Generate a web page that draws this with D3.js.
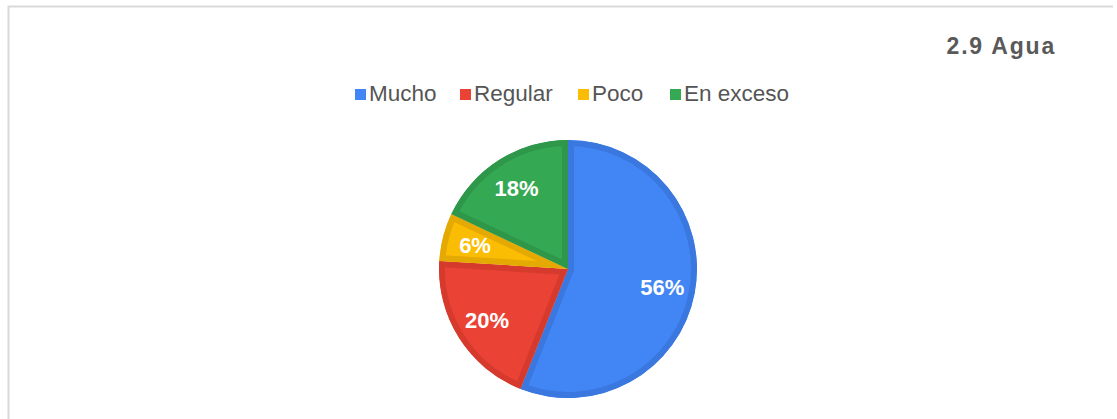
<!DOCTYPE html>
<html>
<head>
<meta charset="utf-8">
<script src="https://cdn.jsdelivr.net/npm/d3@7"></script>
<style>
  body { margin: 0; background: #fff; }
  svg { display: block; font-family: "Liberation Sans", Arial, sans-serif; }
</style>
</head>
<body>
<svg id="chart"></svg>
<script>
const categories = ["Mucho", "Regular", "Poco", "En exceso"];
const values = [56, 20, 6, 18];
const colors = ["#4285f4", "#ea4335", "#fbbc04", "#34a853"];
const edgeColors = ["#3a78e0", "#d63a2d", "#e5a903", "#2e974a"];
const title = "2.9 Agua";

const width = 1117, height = 419;
const svg = d3.select("#chart").attr("width", width).attr("height", height);

// frame
svg.append("path")
    .attr("d", `M8.5,${height} L8.5,6.5 L1113,6.5`)
    .attr("fill", "none")
    .attr("stroke", "#d9d9d9")
    .attr("stroke-width", 2);

svg.append("text")
    .attr("x", 1056).attr("y", 54)
    .attr("text-anchor", "end")
    .attr("font-size", 23)
    .attr("font-weight", "bold")
    .attr("letter-spacing", 1.8)
    .attr("fill", "#595959")
    .text(title);

// legend
const legendX = [355, 460, 578, 670];
const legend = svg.selectAll(".legend")
    .data(categories)
    .enter()
    .append("g")
    .attr("transform", (d, i) => `translate(${legendX[i]},89)`);
legend.append("rect")
    .attr("width", 11).attr("height", 11)
    .attr("fill", (d, i) => colors[i]);
legend.append("text")
    .attr("x", 14).attr("y", 11.5)
    .attr("font-size", 22.5)
    .attr("fill", "#555")
    .text(d => d);

// pie
const cx = 568, cy = 269, R = 129;
const pie = d3.pie().sort(null).value(d => d);
const arc = d3.arc().innerRadius(0).outerRadius(R);
const labelArc = d3.arc().innerRadius(96).outerRadius(96);
const arcs = pie(values);

const g = svg.append("g").attr("transform", `translate(${cx},${cy})`);
const defs = svg.append("defs");
arcs.forEach((a, i) => {
    defs.append("clipPath").attr("id", "clip" + i)
        .append("path").attr("d", arc(a));
});

g.selectAll(".slice")
    .data(arcs)
    .enter()
    .append("path")
    .attr("d", arc)
    .attr("fill", (d, i) => colors[i])
    .attr("stroke", (d, i) => edgeColors[i])
    .attr("stroke-width", 12)
    .attr("clip-path", (d, i) => `url(#clip${i})`);

g.selectAll(".label")
    .data(arcs)
    .enter()
    .append("text")
    .attr("transform", d => `translate(${labelArc.centroid(d)})`)
    .attr("text-anchor", "middle")
    .attr("dy", "0.36em")
    .attr("font-size", 22)
    .attr("font-weight", "bold")
    .attr("fill", "#fff")
    .text(d => d.data + "%");
</script>
</body>
</html>
